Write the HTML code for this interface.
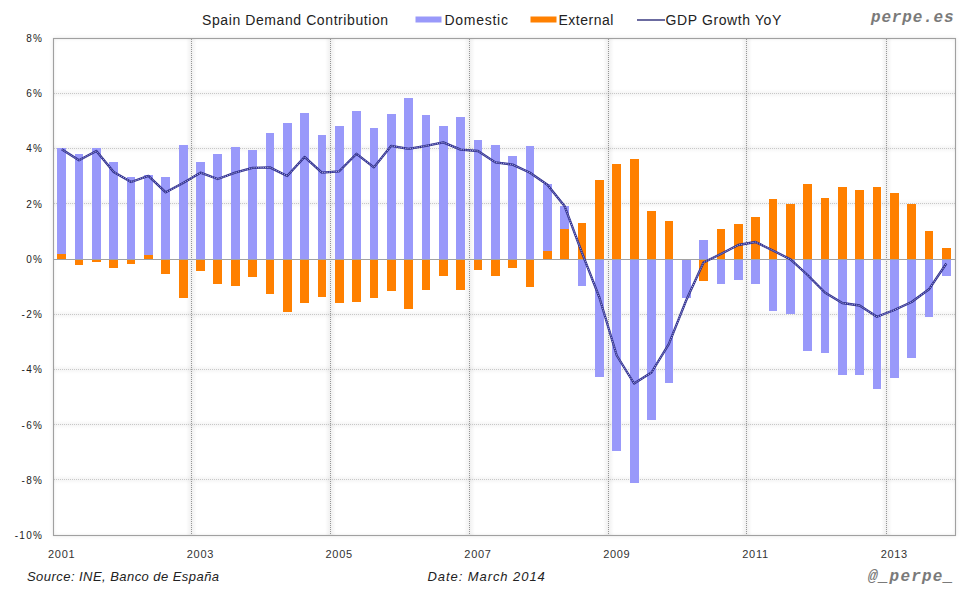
<!DOCTYPE html>
<html><head><meta charset="utf-8"><style>
html,body{margin:0;padding:0;background:#fff;}
body{width:980px;height:600px;position:relative;overflow:hidden;font-family:"Liberation Sans",sans-serif;color:#222;}
svg{position:absolute;left:0;top:0;}
.t{position:absolute;white-space:nowrap;}
.plot{position:absolute;left:53px;top:38px;width:903px;height:498px;box-shadow:0 0 5px rgba(0,0,0,0.08), inset 0 0 5px rgba(0,0,0,0.09);}
.yl{position:absolute;left:0;width:43px;text-align:right;font-size:10px;line-height:14px;color:#222;letter-spacing:1.2px;}
.xl{position:absolute;top:547px;width:50px;text-align:center;font-size:11px;line-height:14px;color:#333;letter-spacing:0.7px;}
.mono{font-family:"Liberation Mono",monospace;font-weight:bold;font-style:italic;font-size:16px;line-height:20px;color:#7a7a7a;}
</style></head><body>
<div class="plot"></div>
<svg width="980" height="600" viewBox="0 0 980 600">
<defs><linearGradient id="hv" x1="0" y1="0" x2="1" y2="0"><stop offset="0" stop-color="#000" stop-opacity="0"/><stop offset="0.5" stop-color="#000" stop-opacity="0.06"/><stop offset="1" stop-color="#000" stop-opacity="0"/></linearGradient><linearGradient id="hh" x1="0" y1="0" x2="0" y2="1"><stop offset="0" stop-color="#000" stop-opacity="0"/><stop offset="0.5" stop-color="#000" stop-opacity="0.04"/><stop offset="1" stop-color="#000" stop-opacity="0"/></linearGradient></defs>
<g><rect x="186" y="39" width="11" height="496" fill="url(#hv)"/><rect x="325" y="39" width="11" height="496" fill="url(#hv)"/><rect x="464" y="39" width="11" height="496" fill="url(#hv)"/><rect x="603" y="39" width="11" height="496" fill="url(#hv)"/><rect x="741" y="39" width="11" height="496" fill="url(#hv)"/><rect x="881" y="39" width="11" height="496" fill="url(#hv)"/><rect x="54" y="89" width="901" height="9" fill="url(#hh)"/><rect x="54" y="144" width="901" height="9" fill="url(#hh)"/><rect x="54" y="199" width="901" height="9" fill="url(#hh)"/><rect x="54" y="310" width="901" height="9" fill="url(#hh)"/><rect x="54" y="365" width="901" height="9" fill="url(#hh)"/><rect x="54" y="420" width="901" height="9" fill="url(#hh)"/><rect x="54" y="475" width="901" height="9" fill="url(#hh)"/></g>
<g stroke="#c8c8c8" stroke-width="1" stroke-dasharray="1,1"><line x1="54" y1="93.5" x2="955" y2="93.5"/><line x1="54" y1="148.5" x2="955" y2="148.5"/><line x1="54" y1="203.5" x2="955" y2="203.5"/><line x1="54" y1="314.5" x2="955" y2="314.5"/><line x1="54" y1="369.5" x2="955" y2="369.5"/><line x1="54" y1="424.5" x2="955" y2="424.5"/><line x1="54" y1="479.5" x2="955" y2="479.5"/></g>
<g stroke="#959595" stroke-width="1" stroke-dasharray="1,1"><line x1="191.5" y1="39" x2="191.5" y2="535"/><line x1="330.5" y1="39" x2="330.5" y2="535"/><line x1="469.5" y1="39" x2="469.5" y2="535"/><line x1="608.5" y1="39" x2="608.5" y2="535"/><line x1="746.5" y1="39" x2="746.5" y2="535"/><line x1="886.5" y1="39" x2="886.5" y2="535"/></g>
<g shape-rendering="crispEdges"><rect x="57" y="148" width="9" height="106" fill="#9999fa"/><rect x="57" y="254" width="9" height="5" fill="#ff8000"/><rect x="75" y="154" width="8" height="105" fill="#9999fa"/><rect x="75" y="259" width="8" height="6" fill="#ff8000"/><rect x="92" y="148" width="9" height="111" fill="#9999fa"/><rect x="92" y="259" width="9" height="3" fill="#ff8000"/><rect x="109" y="162" width="9" height="97" fill="#9999fa"/><rect x="109" y="259" width="9" height="9" fill="#ff8000"/><rect x="127" y="177" width="8" height="82" fill="#9999fa"/><rect x="127" y="259" width="8" height="5" fill="#ff8000"/><rect x="144" y="175" width="9" height="80" fill="#9999fa"/><rect x="144" y="255" width="9" height="4" fill="#ff8000"/><rect x="161" y="177" width="9" height="82" fill="#9999fa"/><rect x="161" y="259" width="9" height="15" fill="#ff8000"/><rect x="179" y="145" width="9" height="114" fill="#9999fa"/><rect x="179" y="259" width="9" height="39" fill="#ff8000"/><rect x="196" y="162" width="9" height="97" fill="#9999fa"/><rect x="196" y="259" width="9" height="12" fill="#ff8000"/><rect x="213" y="154" width="9" height="105" fill="#9999fa"/><rect x="213" y="259" width="9" height="25" fill="#ff8000"/><rect x="231" y="147" width="9" height="112" fill="#9999fa"/><rect x="231" y="259" width="9" height="27" fill="#ff8000"/><rect x="248" y="150" width="9" height="109" fill="#9999fa"/><rect x="248" y="259" width="9" height="18" fill="#ff8000"/><rect x="266" y="133" width="8" height="126" fill="#9999fa"/><rect x="266" y="259" width="8" height="35" fill="#ff8000"/><rect x="283" y="123" width="9" height="136" fill="#9999fa"/><rect x="283" y="259" width="9" height="53" fill="#ff8000"/><rect x="300" y="113" width="9" height="146" fill="#9999fa"/><rect x="300" y="259" width="9" height="44" fill="#ff8000"/><rect x="318" y="135" width="8" height="124" fill="#9999fa"/><rect x="318" y="259" width="8" height="38" fill="#ff8000"/><rect x="335" y="126" width="9" height="133" fill="#9999fa"/><rect x="335" y="259" width="9" height="44" fill="#ff8000"/><rect x="352" y="111" width="9" height="148" fill="#9999fa"/><rect x="352" y="259" width="9" height="43" fill="#ff8000"/><rect x="370" y="128" width="8" height="131" fill="#9999fa"/><rect x="370" y="259" width="8" height="39" fill="#ff8000"/><rect x="387" y="114" width="9" height="145" fill="#9999fa"/><rect x="387" y="259" width="9" height="32" fill="#ff8000"/><rect x="404" y="98" width="9" height="161" fill="#9999fa"/><rect x="404" y="259" width="9" height="50" fill="#ff8000"/><rect x="422" y="115" width="8" height="144" fill="#9999fa"/><rect x="422" y="259" width="8" height="31" fill="#ff8000"/><rect x="439" y="126" width="9" height="133" fill="#9999fa"/><rect x="439" y="259" width="9" height="17" fill="#ff8000"/><rect x="456" y="117" width="9" height="142" fill="#9999fa"/><rect x="456" y="259" width="9" height="31" fill="#ff8000"/><rect x="474" y="140" width="8" height="119" fill="#9999fa"/><rect x="474" y="259" width="8" height="11" fill="#ff8000"/><rect x="491" y="145" width="9" height="114" fill="#9999fa"/><rect x="491" y="259" width="9" height="17" fill="#ff8000"/><rect x="508" y="156" width="9" height="103" fill="#9999fa"/><rect x="508" y="259" width="9" height="9" fill="#ff8000"/><rect x="526" y="146" width="8" height="113" fill="#9999fa"/><rect x="526" y="259" width="8" height="28" fill="#ff8000"/><rect x="543" y="184" width="9" height="67" fill="#9999fa"/><rect x="543" y="251" width="9" height="8" fill="#ff8000"/><rect x="560" y="206" width="9" height="23" fill="#9999fa"/><rect x="560" y="229" width="9" height="30" fill="#ff8000"/><rect x="578" y="259" width="8" height="27" fill="#9999fa"/><rect x="578" y="223" width="8" height="36" fill="#ff8000"/><rect x="595" y="259" width="9" height="118" fill="#9999fa"/><rect x="595" y="180" width="9" height="79" fill="#ff8000"/><rect x="612" y="259" width="9" height="192" fill="#9999fa"/><rect x="612" y="164" width="9" height="95" fill="#ff8000"/><rect x="630" y="259" width="9" height="224" fill="#9999fa"/><rect x="630" y="159" width="9" height="100" fill="#ff8000"/><rect x="647" y="259" width="9" height="161" fill="#9999fa"/><rect x="647" y="211" width="9" height="48" fill="#ff8000"/><rect x="665" y="259" width="8" height="124" fill="#9999fa"/><rect x="665" y="221" width="8" height="38" fill="#ff8000"/><rect x="682" y="259" width="9" height="39" fill="#9999fa"/><rect x="699" y="240" width="9" height="19" fill="#9999fa"/><rect x="699" y="259" width="9" height="22" fill="#ff8000"/><rect x="717" y="259" width="8" height="25" fill="#9999fa"/><rect x="717" y="229" width="8" height="30" fill="#ff8000"/><rect x="734" y="259" width="9" height="21" fill="#9999fa"/><rect x="734" y="224" width="9" height="35" fill="#ff8000"/><rect x="751" y="259" width="9" height="25" fill="#9999fa"/><rect x="751" y="217" width="9" height="42" fill="#ff8000"/><rect x="769" y="259" width="8" height="52" fill="#9999fa"/><rect x="769" y="199" width="8" height="60" fill="#ff8000"/><rect x="786" y="259" width="9" height="55" fill="#9999fa"/><rect x="786" y="204" width="9" height="55" fill="#ff8000"/><rect x="803" y="259" width="9" height="92" fill="#9999fa"/><rect x="803" y="184" width="9" height="75" fill="#ff8000"/><rect x="821" y="259" width="8" height="94" fill="#9999fa"/><rect x="821" y="198" width="8" height="61" fill="#ff8000"/><rect x="838" y="259" width="9" height="116" fill="#9999fa"/><rect x="838" y="187" width="9" height="72" fill="#ff8000"/><rect x="855" y="259" width="9" height="116" fill="#9999fa"/><rect x="855" y="190" width="9" height="69" fill="#ff8000"/><rect x="873" y="259" width="8" height="130" fill="#9999fa"/><rect x="873" y="187" width="8" height="72" fill="#ff8000"/><rect x="890" y="259" width="9" height="119" fill="#9999fa"/><rect x="890" y="193" width="9" height="66" fill="#ff8000"/><rect x="907" y="259" width="9" height="99" fill="#9999fa"/><rect x="907" y="204" width="9" height="55" fill="#ff8000"/><rect x="925" y="259" width="8" height="58" fill="#9999fa"/><rect x="925" y="231" width="8" height="28" fill="#ff8000"/><rect x="942" y="259" width="9" height="17" fill="#9999fa"/><rect x="942" y="248" width="9" height="11" fill="#ff8000"/></g>
<line x1="53" y1="259.5" x2="955" y2="259.5" stroke="#a2a2a2" stroke-width="1"/>
<g><path d="M61.67,149.30 L79.02,160.30 L96.37,151.00 L113.71,171.90 L131.06,182.00 L148.40,175.90 L165.75,192.30 L183.10,183.00 L200.44,172.70 L217.79,179.00 L235.13,172.70 L252.48,167.90 L269.83,167.40 L287.17,176.00 L304.52,156.90 L321.87,172.70 L339.21,171.30 L356.56,153.80 L373.90,167.40 L391.25,145.80 L408.60,148.90 L425.94,145.80 L443.29,142.40 L460.63,149.60 L477.98,151.00 L495.33,162.40 L512.67,164.60 L530.02,172.80 L547.37,184.80 L564.71,206.30 L582.06,253.00 L599.40,297.50 L616.75,355.50 L634.10,383.50 L651.44,372.50 L668.79,344.20 L686.13,300.50 L703.48,262.50 L720.83,254.00 L738.17,245.00 L755.52,242.00 L772.87,250.50 L790.21,259.20 L807.56,275.00 L824.90,292.50 L842.25,303.00 L859.60,305.50 L876.94,316.80 L894.29,310.00 L911.63,302.00 L928.98,289.30 L946.33,263.50" fill="none" stroke="#2c2c8c" stroke-width="2.3" stroke-linejoin="round"/><path d="M61.67,149.30 L79.02,160.30 L96.37,151.00 L113.71,171.90 L131.06,182.00 L148.40,175.90 L165.75,192.30 L183.10,183.00 L200.44,172.70 L217.79,179.00 L235.13,172.70 L252.48,167.90 L269.83,167.40 L287.17,176.00 L304.52,156.90 L321.87,172.70 L339.21,171.30 L356.56,153.80 L373.90,167.40 L391.25,145.80 L408.60,148.90 L425.94,145.80 L443.29,142.40 L460.63,149.60 L477.98,151.00 L495.33,162.40 L512.67,164.60 L530.02,172.80 L547.37,184.80 L564.71,206.30 L582.06,253.00 L599.40,297.50 L616.75,355.50 L634.10,383.50 L651.44,372.50 L668.79,344.20 L686.13,300.50 L703.48,262.50 L720.83,254.00 L738.17,245.00 L755.52,242.00 L772.87,250.50 L790.21,259.20 L807.56,275.00 L824.90,292.50 L842.25,303.00 L859.60,305.50 L876.94,316.80 L894.29,310.00 L911.63,302.00 L928.98,289.30 L946.33,263.50" fill="none" stroke="#c8c8f0" stroke-width="0.8" stroke-dasharray="1.3,1.0" stroke-linejoin="round"/></g>
<rect x="53.5" y="38.5" width="902" height="497" fill="none" stroke="#a0a0a0" stroke-width="1.1"/>
<rect x="415.5" y="16.5" width="26" height="6" fill="#9999fa"/>
<rect x="530.5" y="16.5" width="26" height="6" fill="#ff8000"/>
<line x1="637" y1="20" x2="665" y2="20" stroke="#3a3a80" stroke-width="1.5"/>
</svg>
<div class="t" style="left:202px;top:11px;font-size:14px;line-height:18px;letter-spacing:0.59px;">Spain Demand Contribution</div>
<div class="t" style="left:444.5px;top:11px;font-size:14px;line-height:18px;letter-spacing:0.73px;">Domestic</div>
<div class="t" style="left:558.5px;top:11px;font-size:14px;line-height:18px;letter-spacing:0.51px;">External</div>
<div class="t" style="left:665.5px;top:11px;font-size:14px;line-height:18px;letter-spacing:0.61px;">GDP Growth YoY</div>
<div class="t mono" style="left:871px;top:8px;letter-spacing:0.83px;">perpe.es</div>
<div class="yl" style="top:32.0px">8%</div><div class="yl" style="top:87.2px">6%</div><div class="yl" style="top:142.4px">4%</div><div class="yl" style="top:197.7px">2%</div><div class="yl" style="top:252.9px">0%</div><div class="yl" style="top:308.1px">-2%</div><div class="yl" style="top:363.3px">-4%</div><div class="yl" style="top:418.6px">-6%</div><div class="yl" style="top:473.8px">-8%</div><div class="yl" style="top:529.0px">-10%</div>
<div class="xl" style="left:36.7px">2001</div><div class="xl" style="left:175.4px">2003</div><div class="xl" style="left:314.2px">2005</div><div class="xl" style="left:453.0px">2007</div><div class="xl" style="left:591.8px">2009</div><div class="xl" style="left:730.5px">2011</div><div class="xl" style="left:869.3px">2013</div>
<div class="t" style="left:27px;top:567.5px;font-style:italic;font-size:13px;line-height:18px;letter-spacing:0.45px;">Source: INE, Banco de España</div>
<div class="t" style="left:427.5px;top:567.5px;font-style:italic;font-size:13px;line-height:18px;letter-spacing:0.93px;">Date: March 2014</div>
<div class="t mono" style="left:868px;top:567px;letter-spacing:1.2px;">@_perpe_</div>
</body></html>
